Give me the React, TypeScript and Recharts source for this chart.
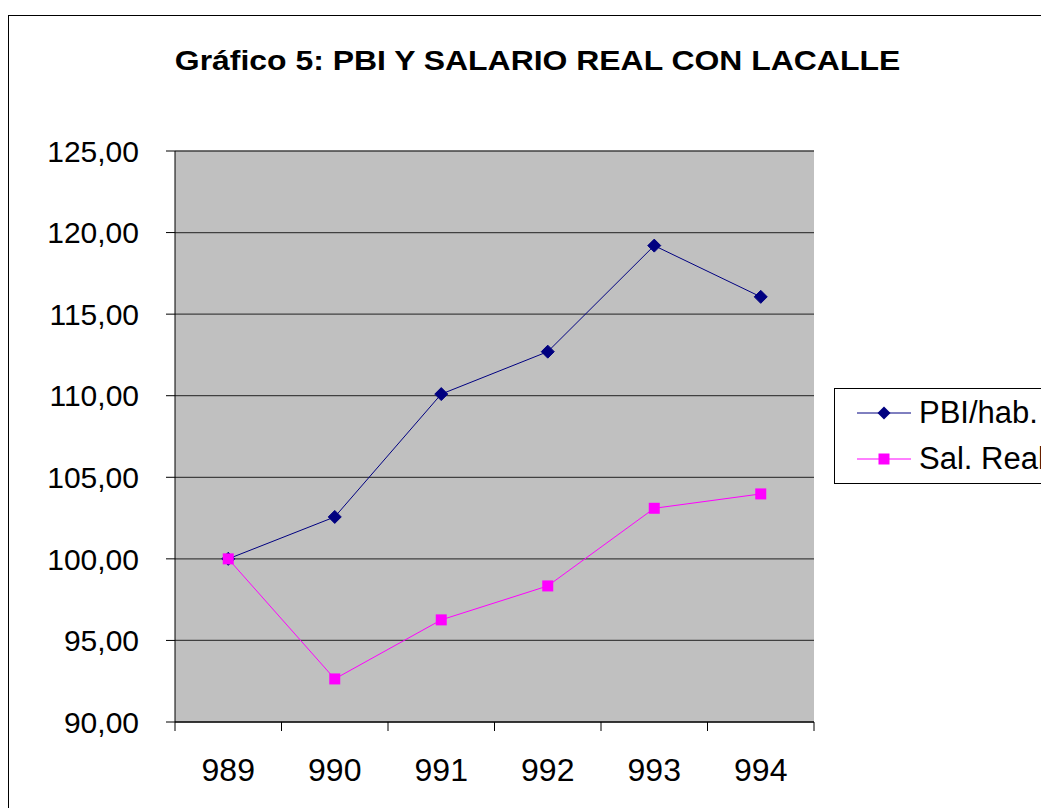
import React from 'react';
import {
  LineChart,
  Line,
  XAxis,
  YAxis,
  CartesianGrid,
  Legend,
} from 'recharts';

const years = ['989', '990', '991', '992', '993', '994'];
const pbiHab = [100.0, 102.57, 110.1, 112.7, 119.2, 116.06];
const salReal = [100.0, 92.64, 96.26, 98.34, 103.1, 103.98];
const yTicks = [90, 95, 100, 105, 110, 115, 120, 125];

const data = years.map((y, i) => ({ year: y, pbi: pbiHab[i], sal: salReal[i] }));

const FONT = '"Liberation Sans", Arial, sans-serif';
const W = 1041;
const H = 808;
const M = { top: 151, right: 227, left: 0, bottom: 26 };
const Y_W = 175;
const BAND = (W - M.left - M.right - Y_W) / years.length;

const fmt = (v: number) => v.toFixed(2).replace('.', ',');

function Diamond({ cx, cy }: any) {
  if (cx == null || cy == null) return null;
  const r = 6.5;
  return (
    <polygon
      points={`${cx},${cy - r} ${cx + r},${cy} ${cx},${cy + r} ${cx - r},${cy}`}
      fill="#000080"
      stroke="#000080"
    />
  );
}

function Square({ cx, cy }: any) {
  if (cx == null || cy == null) return null;
  const s = 5.5;
  return <rect x={cx - s} y={cy - s} width={s * 2} height={s * 2} fill="#ff00ff" />;
}

function YearTick({ x, y, payload, index }: any) {
  const axisY = y - 36;
  return (
    <g>
      <line x1={x - BAND / 2} x2={x - BAND / 2} y1={axisY} y2={axisY + 9} stroke="#000" />
      {index === years.length - 1 && (
        <line x1={x + BAND / 2} x2={x + BAND / 2} y1={axisY} y2={axisY + 9} stroke="#000" />
      )}
      <text x={x} y={y} dy="0.71em" textAnchor="middle" fill="#000" fontSize={32} fontFamily={FONT}>
        {payload.value}
      </text>
    </g>
  );
}

function LegendBox() {
  const rows = [
    { label: 'PBI/hab.', color: '#000080', marker: 'diamond' },
    { label: 'Sal. Real', color: '#ff00ff', marker: 'square' },
  ];
  return (
    <div
      style={{
        border: '1px solid #000',
        background: '#fff',
        width: 300,
        height: 96,
        boxSizing: 'border-box',
        position: 'relative',
        fontFamily: FONT,
      }}
    >
      {rows.map((r, i) => (
        <div
          key={r.label}
          style={{ position: 'absolute', left: 22, top: 7 + i * 46, height: 34, display: 'flex', alignItems: 'center' }}
        >
          <svg width={56} height={20}>
            <line x1={0} x2={54} y1={10} y2={10} stroke={r.color} strokeWidth={1} />
            {r.marker === 'diamond' ? (
              <polygon points="27,3.5 33.5,10 27,16.5 20.5,10" fill={r.color} />
            ) : (
              <rect x={21.5} y={4.5} width={11} height={11} fill={r.color} />
            )}
          </svg>
          <span style={{ fontSize: 31, marginLeft: 6, color: '#000', whiteSpace: 'nowrap' }}>{r.label}</span>
        </div>
      ))}
    </div>
  );
}

export default function App() {
  return (
    <div style={{ position: 'fixed', left: 0, top: 0, width: W, height: H, overflow: 'hidden', background: '#fff' }}>
      <div
        style={{
          position: 'absolute',
          left: 8,
          top: 15,
          width: 1200,
          height: 1000,
          border: '1px solid #000',
        }}
      />
      <div
        style={{
          position: 'absolute',
          left: 0,
          width: 1075,
          top: 45,
          textAlign: 'center',
          fontFamily: FONT,
          fontWeight: 'bold',
          fontSize: 28,
          color: '#000',
          transform: 'scaleX(1.14)',
          transformOrigin: '537.5px 0',
        }}
      >
        Gráfico 5: PBI Y SALARIO REAL CON LACALLE
      </div>
      <div style={{ position: 'absolute', left: 0, top: 0 }}>
        <LineChart width={W} height={H} data={data} margin={M}>
          <CartesianGrid vertical={false} fill="#c0c0c0" stroke="#404040" strokeWidth={1.3} yAxisId="left" />
          <XAxis
            dataKey="year"
            scale="band"
            axisLine={{ stroke: '#000' }}
            tickLine={false}
            tickSize={9}
            tickMargin={27}
            height={60}
            interval={0}
            tick={<YearTick />}
          />
          <YAxis
            yAxisId="left"
            domain={[90, 125]}
            ticks={yTicks}
            width={Y_W}
            tickFormatter={fmt}
            axisLine={{ stroke: '#000' }}
            tickLine={{ stroke: '#000' }}
            tickSize={9}
            tickMargin={27}
            tick={{ fontSize: 30, fill: '#000', fontFamily: FONT }}
          />
          <YAxis
            yAxisId="right"
            orientation="right"
            width={0}
            tick={false}
            tickLine={false}
            axisLine={{ stroke: '#808080' }}
          />
          <Line
            yAxisId="left"
            dataKey="pbi"
            name="PBI/hab."
            stroke="#000080"
            strokeWidth={1}
            dot={<Diamond />}
            activeDot={false}
            isAnimationActive={false}
          />
          <Line
            yAxisId="left"
            dataKey="sal"
            name="Sal. Real"
            stroke="#ff00ff"
            strokeWidth={1}
            dot={<Square />}
            activeDot={false}
            isAnimationActive={false}
          />
          <Legend
            layout="vertical"
            align="center"
            verticalAlign="middle"
            wrapperStyle={{ position: 'absolute', left: 834, top: 388, width: 300 }}
            content={() => <LegendBox />}
          />
        </LineChart>
      </div>
    </div>
  );
}
